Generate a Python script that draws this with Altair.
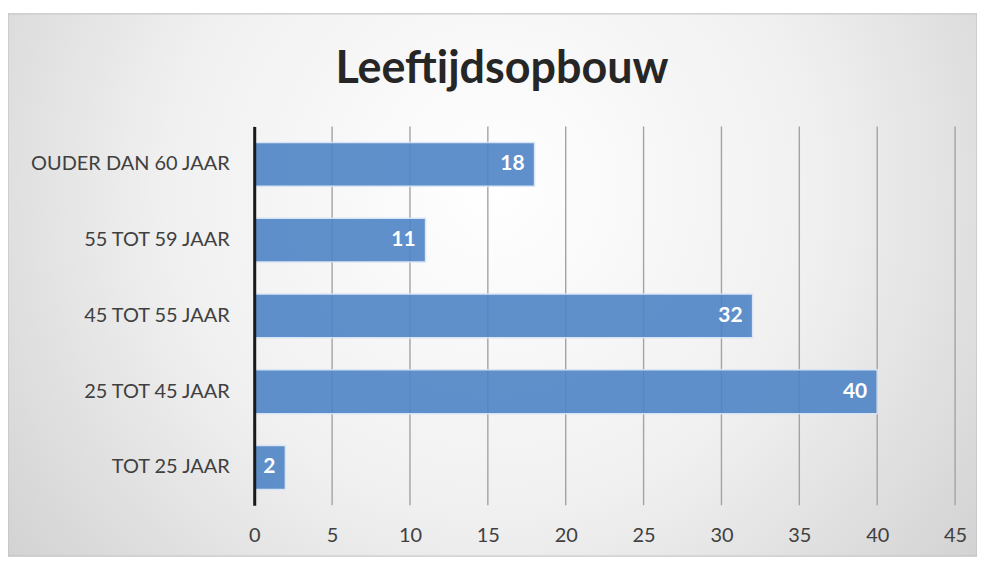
import altair as alt
import pandas as pd

categories = ["OUDER DAN 60 JAAR", "55 TOT 59 JAAR", "45 TOT 55 JAAR", "25 TOT 45 JAAR", "TOT 25 JAAR"]
values = [18, 11, 32, 40, 2]
x_ticks = [0, 5, 10, 15, 20, 25, 30, 35, 40, 45]

df = pd.DataFrame({"cat": categories, "val": values})
grid_df = pd.DataFrame({"t": x_ticks})

FONT = "Lato"

bg = alt.Chart(pd.DataFrame({"d": [0]})).mark_rect(
    clip=False,
    color=alt.Gradient(
        gradient="radial",
        stops=[
            alt.GradientStop(offset=0, color="#ffffff"),
            alt.GradientStop(offset=0.45, color="#f0f0f0"),
            alt.GradientStop(offset=1, color="#c6c6c6"),
        ],
        x1=0.5, y1=0.4, x2=0.5, y2=0.4, r1=0, r2=0.75,
    ),
    stroke="#bdbdbd",
    strokeWidth=1,
).encode(
    x=alt.value(-247), x2=alt.value(725),
    y=alt.value(-113), y2=alt.value(431),
)

x_scale = alt.Scale(domain=[0, 45], nice=False)

grid = alt.Chart(grid_df).mark_rule(color="#a3a3a3", strokeWidth=1.4).encode(
    x=alt.X("t:Q", scale=x_scale, title=None,
            axis=alt.Axis(values=x_ticks, domain=False, ticks=False,
                          labelFont=FONT, labelFontSize=20, labelColor="#404040",
                          labelPadding=20, labelFlush=False, grid=False, zindex=1))
)

y_enc = alt.Y("cat:N", sort=categories, title=None,
              scale=alt.Scale(paddingInner=0.42, paddingOuter=0.21),
              axis=alt.Axis(domain=True, domainColor="#1a1a1a", domainWidth=3,
                            ticks=False, labelFont=FONT, labelFontSize=20,
                            labelColor="#404040", labelPadding=25, labelLimit=400,
                            grid=False, zindex=2))

bars = alt.Chart(df).mark_bar(
    color="#4f85c6", opacity=0.9, stroke="#d6e4f5", strokeWidth=1.5
).encode(x=alt.X("val:Q", scale=x_scale), y=y_enc)

labels = alt.Chart(df).mark_text(
    align="right", dx=-10, font=FONT, fontSize=21, fontWeight="bold", color="white"
).encode(x="val:Q", y=alt.Y("cat:N", sort=categories), text="val:Q")

chart = alt.layer(bg, grid, bars, labels).properties(
    width=703, height=380,
    autosize=alt.AutoSizeParams(type="none"),
    padding={"left": 247, "top": 118, "right": 22, "bottom": 51},
    title=alt.TitleParams(
        "Leeftijdsopbouw", font=FONT, fontSize=45, fontWeight="bold",
        color="#262626", anchor="middle", frame="group", dx=-103, dy=113,
        offset=34, zindex=2,
    ),
).configure(background="white").configure_view(stroke=None)

chart.save("out.html", embed_options={"renderer": "svg", "actions": False})
